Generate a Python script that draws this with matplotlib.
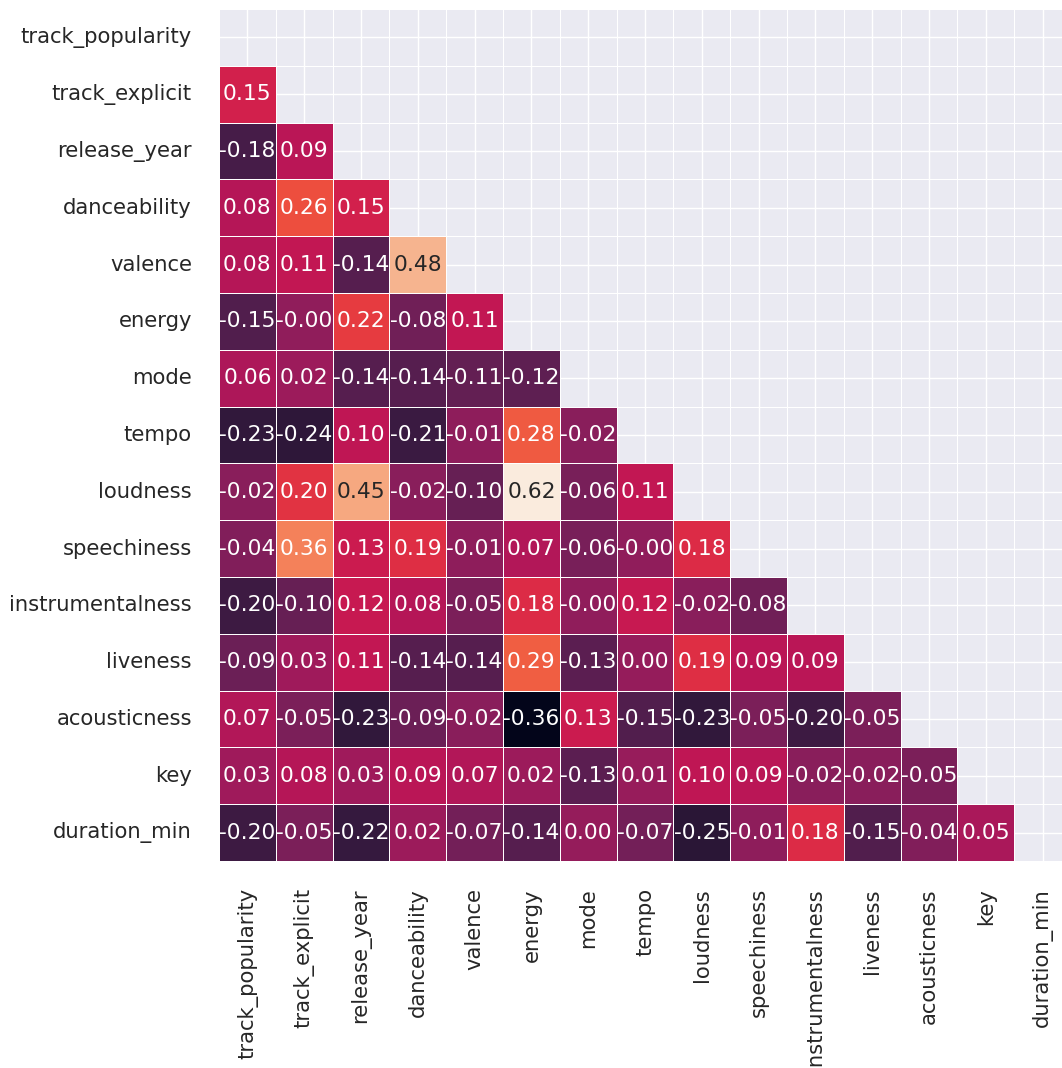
import numpy as np
import pandas as pd
import matplotlib
matplotlib.use("Agg")
import matplotlib.pyplot as plt
import seaborn as sns

## nombres de las columnas
columnas = ["track_popularity", "track_explicit", "release_year", "danceability",
            "valence", "energy", "mode", "tempo", "loudness", "speechiness",
            "instrumentalness", "liveness", "acousticness", "key", "duration_min"]

## triangulo inferior de la matriz de correlacion (fila por fila)
filas = [
    [0.15],
    [-0.18, 0.09],
    [0.08, 0.26, 0.15],
    [0.08, 0.11, -0.14, 0.48],
    [-0.15, -0.004, 0.22, -0.08, 0.11],
    [0.06, 0.02, -0.14, -0.14, -0.11, -0.12],
    [-0.23, -0.24, 0.10, -0.21, -0.01, 0.28, -0.02],
    [-0.02, 0.20, 0.45, -0.02, -0.10, 0.62, -0.06, 0.11],
    [-0.04, 0.36, 0.13, 0.19, -0.01, 0.07, -0.06, -0.004, 0.18],
    [-0.20, -0.10, 0.12, 0.08, -0.05, 0.18, -0.004, 0.12, -0.02, -0.08],
    [-0.09, 0.03, 0.11, -0.14, -0.14, 0.29, -0.13, 0.004, 0.19, 0.09, 0.09],
    [0.07, -0.05, -0.23, -0.09, -0.02, -0.36, 0.13, -0.15, -0.23, -0.05, -0.20, -0.05],
    [0.03, 0.08, 0.03, 0.09, 0.07, 0.02, -0.13, 0.01, 0.10, 0.09, -0.02, -0.02, -0.05],
    [-0.20, -0.05, -0.22, 0.02, -0.07, -0.14, 0.004, -0.07, -0.25, -0.01, 0.18, -0.15, -0.04, 0.05],
]

n = len(columnas)
corr = np.eye(n)
for i, fila in enumerate(filas):
    for j, v in enumerate(fila):
        corr[i + 1, j] = v
        corr[j, i + 1] = v
corr = pd.DataFrame(corr, index=columnas, columns=columnas)

mascara = np.triu(np.ones_like(corr, dtype=bool))

sns.set_theme()
pad = plt.rcParams["xtick.major.pad"] + 10
fig = plt.figure(figsize=(10.62, 10.68), dpi=100)
ax = fig.add_axes([219 / 1062, 1 - 861 / 1068, 852 / 1062, 852 / 1068])
sns.heatmap(corr, mask=mascara, annot=True, fmt=".2f", linewidths=0.5,
            cbar=False, annot_kws={"size": 15.7}, ax=ax)
ax.tick_params(axis="both", labelsize=15.2, pad=pad)
plt.setp(ax.get_xticklabels(), rotation=90)
plt.setp(ax.get_yticklabels(), rotation=0)

fig.savefig("out.png", dpi=100)
